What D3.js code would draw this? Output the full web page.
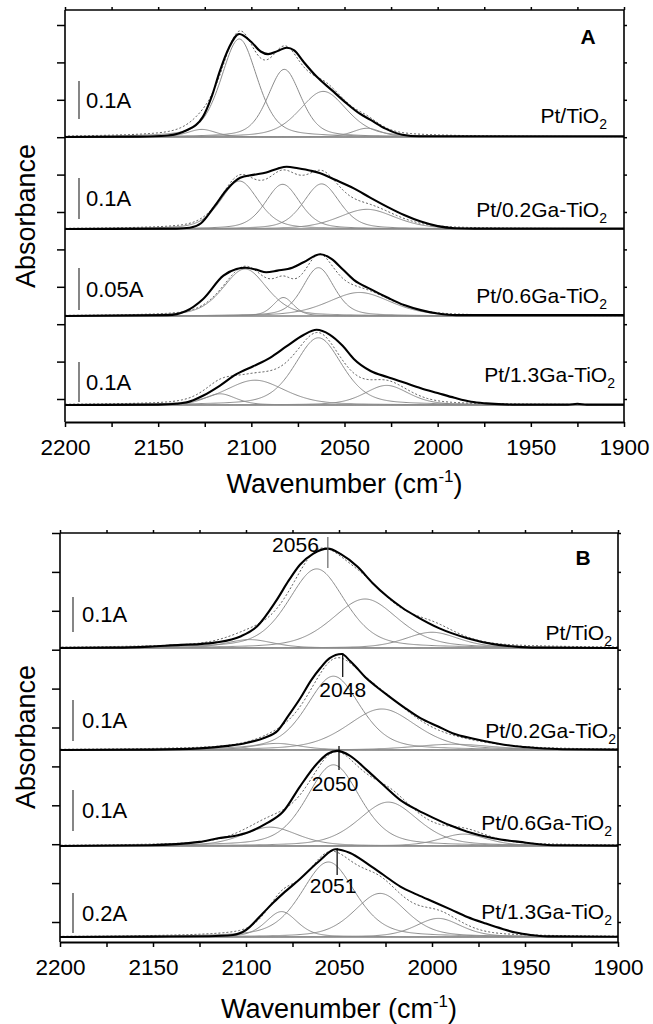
<!DOCTYPE html>
<html>
<head>
<meta charset="utf-8">
<script src="https://cdn.jsdelivr.net/npm/d3@7"></script>
<style>
  body { margin: 0; background: #fff; }
  text { font-family: "Liberation Sans", Arial, sans-serif; fill: #000; }
</style>
</head>
<body>
<svg id="chart" width="653" height="1024"></svg>
<script>
// ---- data ----
const sampleNames = ["Pt/TiO", "Pt/0.2Ga-TiO", "Pt/0.6Ga-TiO", "Pt/1.3Ga-TiO"]; // each followed by subscript 2
const xTickValues = [2200, 2150, 2100, 2050, 2000, 1950, 1900];
const barValuesA = [0.1, 0.1, 0.05, 0.1];
const barValuesB = [0.1, 0.1, 0.1, 0.2];
const peakLabelsB = [2056, 2048, 2050, 2051];

// measured spectra, [wavenumber, absorbance]
const measA_PtTiO2 = [[2200,0],[2160,0.001],[2145,0.004],[2135,0.017],[2126,0.053],[2121,0.11],[2117,0.172],[2112,0.235],[2106.5,0.271],[2100,0.25],[2095,0.225],[2091,0.218],[2086,0.226],[2081,0.235],[2077,0.228],[2072,0.198],[2065,0.159],[2057,0.124],[2049,0.089],[2042,0.062],[2036,0.045],[2028,0.022],[2019,0.006],[2010,0.002],[1990,0.002],[1960,0.002],[1930,0.002],[1900,0.002]];
const measA_02Ga = [[2200,0],[2140,0.001],[2133,0.003],[2127,0.014],[2120,0.054],[2113,0.097],[2106,0.125],[2099,0.132],[2092,0.138],[2086,0.147],[2081,0.152],[2075,0.148],[2068,0.142],[2063,0.136],[2055,0.12],[2045,0.099],[2036,0.076],[2027,0.054],[2018,0.034],[2009,0.018],[2000,0.007],[1991,0.002],[1980,0.001],[1900,0.001]];
const measA_06Ga = [[2200,0],[2145,0.001],[2135,0.006],[2126,0.02],[2115,0.048],[2108,0.056],[2103,0.0575],[2097,0.055],[2092,0.052],[2086,0.054],[2078,0.0575],[2072,0.064],[2063,0.0735],[2057,0.068],[2051,0.0556],[2045,0.043],[2036,0.032],[2027,0.022],[2018,0.013],[2009,0.007],[2000,0.003],[1990,0.001],[1900,0.001]];
const measA_13Ga = [[2200,0],[2150,0.001],[2140,0.003],[2135,0.006],[2126,0.023],[2117,0.048],[2108,0.077],[2099,0.097],[2090,0.118],[2081,0.147],[2072,0.175],[2065,0.188],[2058,0.176],[2051,0.148],[2045,0.115],[2036,0.085],[2027,0.07],[2018,0.056],[2009,0.042],[2000,0.03],[1991,0.018],[1982,0.008],[1974,0.004],[1960,0.001],[1930,0.001],[1925,0.003],[1920,0.001],[1900,0.001]];
const measB_PtTiO2 = [[2200,0],[2170,0.001],[2152,0.004],[2135,0.009],[2125,0.011],[2116,0.016],[2103,0.033],[2094,0.062],[2084,0.133],[2077,0.193],[2071,0.238],[2064,0.269],[2056,0.284],[2049,0.268],[2040,0.232],[2032,0.186],[2024,0.147],[2016,0.115],[2008,0.089],[1996,0.056],[1981,0.028],[1967,0.011],[1955,0.004],[1944,0.001],[1900,0]];
const measB_02Ga = [[2200,0],[2150,0.001],[2125,0.004],[2110,0.01],[2101,0.016],[2090,0.03],[2083,0.047],[2077,0.085],[2071,0.125],[2065,0.17],[2060,0.2],[2055,0.224],[2048.6,0.234],[2044,0.217],[2040,0.198],[2036,0.178],[2030,0.155],[2024,0.134],[2015,0.104],[2006,0.077],[1997,0.058],[1989,0.041],[1977,0.027],[1965,0.016],[1955,0.009],[1944,0.005],[1930,0.002],[1900,0.001]];
const measB_06Ga = [[2200,0],[2152,0.002],[2125,0.01],[2115,0.019],[2107,0.024],[2098,0.035],[2089,0.055],[2080,0.084],[2071,0.145],[2062,0.2],[2056,0.225],[2051,0.232],[2044,0.22],[2035,0.185],[2026,0.148],[2017,0.112],[2008,0.088],[1999,0.068],[1990,0.05],[1981,0.035],[1967,0.019],[1953,0.01],[1935,0.002],[1900,0.001]];
const measB_13Ga = [[2200,0],[2150,0.002],[2120,0.004],[2107,0.01],[2100,0.035],[2091,0.118],[2085,0.175],[2080,0.218],[2071,0.29],[2060,0.385],[2052,0.4385],[2044,0.42],[2035,0.368],[2026,0.31],[2017,0.252],[2008,0.212],[1999,0.175],[1990,0.138],[1981,0.1],[1971,0.067],[1962,0.04],[1955,0.022],[1947,0.01],[1938,0.003],[1900,0.001]];

// fitted bands, [centre cm-1, height, FWHM cm-1]
const fitA_PtTiO2 = [[2106.5,0.258,23],[2082.3,0.178,21],[2061.4,0.12,30],[2126.6,0.02,18],[2038,0.023,18]];
const fitA_02Ga = [[2106.4,0.117,24],[2083.2,0.109,22],[2062.3,0.11,23],[2038,0.048,36]];
const fitA_06Ga = [[2103.4,0.056,28],[2082.8,0.022,13],[2064,0.0575,20],[2042,0.028,40]];
const fitA_13Ga = [[2064,0.168,30],[2098,0.062,38],[2116.8,0.028,20],[2027.4,0.049,28]];
const fitB_PtTiO2 = [[2062,0.226,36],[2036,0.14,42],[2000,0.045,34],[2098,0.024,30]];
const fitB_02Ga = [[2053,0.18,34],[2027,0.1,44],[1988.6,0.014,50],[2083.5,0.016,30]];
const fitB_06Ga = [[2053,0.198,34],[2023.5,0.107,38],[2087,0.046,35],[1983,0.029,30]];
const fitB_13Ga = [[2055.7,0.375,34],[2027.9,0.218,33],[1996.6,0.093,29],[2080.9,0.127,20]];

// ---- layout ----
const panels = [
  { letter: "A", left: 65, right: 624, top: 10, axisY: 422,
    base: [137, 229, 316, 405], pxPerA: [380, 410, 840, 400],
    tickTop: 25, tickBottom: 399, barX: 79, barGap: [18, 10, 6, 3], barTextX: 86,
    labelRight: [607, 607, 607, 615], labelDy: [-14, -12, -13, -23],
    letterPos: [588, 44], xTitleY: 493, yTitleY: 216,
    meas: [measA_PtTiO2, measA_02Ga, measA_06Ga, measA_13Ga],
    fits: [fitA_PtTiO2, fitA_02Ga, fitA_06Ga, fitA_13Ga], bars: barValuesA },
  { letter: "B", left: 60, right: 618, top: 533, axisY: 942,
    base: [648, 750, 846, 937], pxPerA: [350, 410, 410, 200],
    tickTop: 533, tickBottom: 922, barX: 73, barGap: [16, 9, 15, 4], barTextX: 82,
    labelRight: [612, 616, 612, 612], labelDy: [-8, -12, -16, -18],
    letterPos: [583, 565], xTitleY: 1018, yTitleY: 737,
    meas: [measB_PtTiO2, measB_02Ga, measB_06Ga, measB_13Ga],
    fits: [fitB_PtTiO2, fitB_02Ga, fitB_06Ga, fitB_13Ga], bars: barValuesB,
    peaks: peakLabelsB,
    // [line top, line bottom, text dx, text y, anchor, colour], relative to baseline / marker
    peakLayout: [[-111, -80, -9, -96, "end", "#666"], [-97, -73, 0, -53, "middle", "#000"],
                 [-100, -76, -4, -55, "middle", "#000"], [-89, -62, -4, -44, "middle", "#000"]] }
];

// pseudo-Voigt band (40 % Lorentzian)
function band(w, p) {
  const t = 2 * (w - p[0]) / p[2];
  return p[1] * (0.4 / (1 + t * t) + 0.6 * Math.exp(-Math.LN2 * t * t));
}

const svg = d3.select("#chart");
const grid = d3.range(1900, 2200.01, 0.5);

panels.forEach((P, pi) => {
  const g = svg.append("g");
  const x = d3.scaleLinear().domain([2200, 1900]).range([P.left, P.right]);

  const clipId = "clip" + pi;
  svg.append("clipPath").attr("id", clipId).append("rect")
    .attr("x", P.left).attr("y", P.top).attr("width", P.right - P.left).attr("height", P.axisY - P.top);
  const plot = g.append("g").attr("clip-path", `url(#${clipId})`);

  P.meas.forEach((meas, i) => {
    const b = P.base[i];
    const y = d3.scaleLinear().domain([0, 1]).range([b, b - P.pxPerA[i]]);

    // separator / baseline
    plot.append("line").attr("x1", P.left).attr("x2", P.right).attr("y1", b).attr("y2", b)
      .attr("stroke", "#808080").attr("stroke-width", 1.6);

    const line = d3.line().x(d => x(d[0])).y(d => y(d[1]));

    // component bands
    P.fits[i].forEach(p => {
      plot.append("path").datum(grid.map(w => [w, band(w, p)]))
        .attr("d", line).attr("fill", "none").attr("stroke", "#8a8a8a").attr("stroke-width", 1);
    });
    // cumulative fit (dashed)
    plot.append("path").datum(grid.map(w => [w, d3.sum(P.fits[i], p => band(w, p))]))
      .attr("d", line).attr("fill", "none").attr("stroke", "#555")
      .attr("stroke-width", 1).attr("stroke-dasharray", "2,2");
    // measured spectrum
    plot.append("path").datum(meas)
      .attr("d", line.curve(d3.curveMonotoneX)).attr("fill", "none")
      .attr("stroke", "#000").attr("stroke-width", 2.1);

    // scale bar
    const yb = d3.scaleLinear().domain([0, 1]).range([b - P.barGap[i], b - P.barGap[i] - P.pxPerA[i]]);
    g.append("line").attr("x1", P.barX).attr("x2", P.barX)
      .attr("y1", yb(0)).attr("y2", yb(P.bars[i]))
      .attr("stroke", "#444").attr("stroke-width", 1.3);
    g.append("text").attr("x", P.barTextX).attr("y", (yb(0) + yb(P.bars[i])) / 2)
      .attr("dy", "0.36em").attr("font-size", 22).text(P.bars[i] + "A");

    // sample label with subscript
    const t = g.append("text").attr("x", P.labelRight[i]).attr("y", b + P.labelDy[i])
      .attr("text-anchor", "end").attr("font-size", 21);
    t.append("tspan").text(sampleNames[i]);
    t.append("tspan").attr("font-size", 14).attr("dy", 6).text("2");

    // peak position markers (panel B)
    if (P.peaks) {
      const L = P.peakLayout[i];
      const px = x(P.peaks[i]);
      g.append("line").attr("x1", px).attr("x2", px).attr("y1", b + L[0]).attr("y2", b + L[1])
        .attr("stroke", L[5]).attr("stroke-width", 1.2);
      g.append("text").attr("x", px + L[2]).attr("y", b + L[3]).attr("text-anchor", L[4])
        .attr("font-size", 21).text(P.peaks[i]);
    }
  });

  // frame
  const frame = g.append("g").attr("stroke", "#000").attr("stroke-width", 1.6);
  frame.append("line").attr("x1", P.left).attr("x2", P.right).attr("y1", P.top).attr("y2", P.top);
  frame.append("line").attr("x1", P.left).attr("x2", P.left).attr("y1", P.top).attr("y2", P.axisY);
  frame.append("line").attr("x1", P.right).attr("x2", P.right).attr("y1", P.top).attr("y2", P.axisY);

  // y ticks (no labels)
  const yt = d3.scaleLinear().domain([0, 10]).range([P.tickBottom, P.tickTop]);
  const tv = d3.range(0, 11);
  g.append("g").attr("transform", `translate(${P.left},0)`)
    .call(d3.axisLeft(yt).tickValues(tv).tickSize(8).tickFormat(""))
    .call(a => a.select(".domain").remove())
    .call(a => a.selectAll("line").attr("stroke-width", 1.5));
  g.append("g").attr("transform", `translate(${P.right},0)`)
    .call(d3.axisRight(yt).tickValues(tv).tickSize(3).tickFormat(""))
    .call(a => a.select(".domain").remove())
    .call(a => a.selectAll("line").attr("stroke-width", 1.5));

  // top minor ticks
  const minor = d3.range(1900, 2201, 25);
  g.append("g").attr("transform", `translate(0,${P.top})`)
    .call(d3.axisTop(x).tickValues(minor).tickSize(3).tickFormat(""))
    .call(a => a.select(".domain").remove())
    .call(a => a.selectAll("line").attr("stroke-width", 1.5));

  // bottom axis
  const ax = g.append("g").attr("transform", `translate(0,${P.axisY})`)
    .call(d3.axisBottom(x).tickValues(xTickValues).tickFormat(d3.format("d"))
      .tickSize(5).tickPadding(12).tickSizeOuter(0));
  ax.select(".domain").attr("stroke-width", 2);
  ax.selectAll("line").attr("stroke-width", 1.5);
  ax.selectAll("text").attr("font-size", 22.5)
    .style("font-family", '"Liberation Sans", Arial, sans-serif');
  g.append("g").attr("transform", `translate(0,${P.axisY})`)
    .call(d3.axisBottom(x).tickValues(minor.filter(v => v % 50)).tickSize(5).tickFormat(""))
    .call(a => a.select(".domain").remove())
    .call(a => a.selectAll("line").attr("stroke-width", 1.5));

  // panel letter
  g.append("text").attr("x", P.letterPos[0]).attr("y", P.letterPos[1]).attr("text-anchor", "middle")
    .attr("font-size", 21).attr("font-weight", "bold").text(P.letter);

  // axis titles
  const xt = g.append("text").attr("x", (P.left + P.right) / 2).attr("y", P.xTitleY)
    .attr("text-anchor", "middle").attr("font-size", 27);
  xt.append("tspan").text("Wavenumber (cm");
  xt.append("tspan").attr("font-size", 17).attr("dy", -11).text("-1");
  xt.append("tspan").attr("dy", 11).text(")");

  g.append("text").attr("transform", `translate(35,${P.yTitleY}) rotate(-90)`)
    .attr("text-anchor", "middle").attr("font-size", 27).text("Absorbance");
});
</script>
</body>
</html>
